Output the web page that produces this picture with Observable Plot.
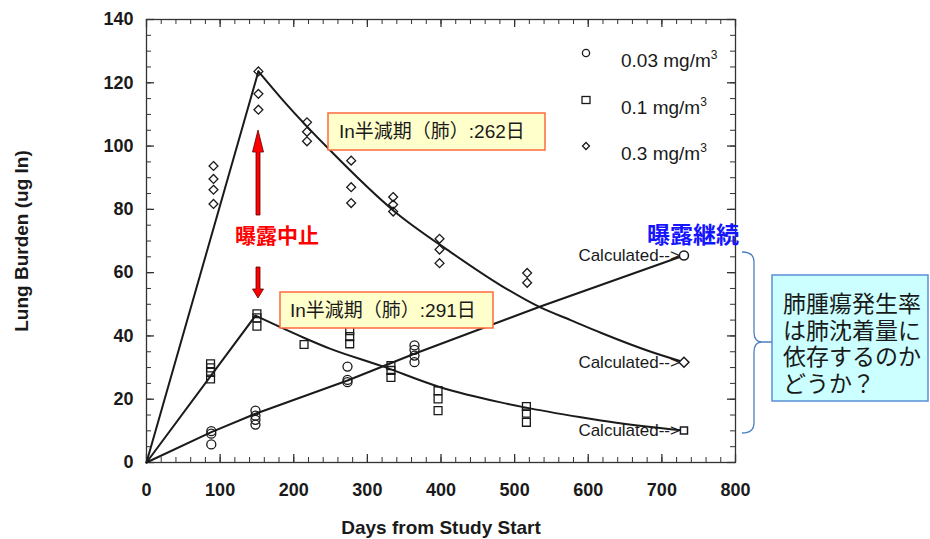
<!DOCTYPE html>
<html><head><meta charset="utf-8">
<script src="https://cdn.jsdelivr.net/npm/d3@7"></script>
<script src="https://cdn.jsdelivr.net/npm/@observablehq/plot@0.6"></script>
<style>
body{margin:0;background:#fff;}
#chart{position:relative;width:930px;height:539px;overflow:hidden;}
#chart svg{display:block;}
#chart [aria-label="x-axis label"] text,#chart [aria-label="y-axis label"] text{font-size:19px;font-weight:bold;}
</style></head><body><div id="chart"></div>
<script>
// ---- data ----
const xTicks = [0,100,200,300,400,500,600,700,800];
const yTicks = [0,20,40,60,80,100,120,140];
const seriesLabels = ["0.03 mg/m", "0.1 mg/m", "0.3 mg/m"];

// 0.03 mg/m3 (circles)
const lowDays   = [88,88,88,148,148,148,148,273,273,273,364,364,364,364];
const lowBurden = [9.9,9.1,5.7,16.4,14.8,13.5,12.0,30.3,26.1,25.4,37.0,35.6,33.8,31.7];
// 0.1 mg/m3 (squares)
const midDays   = [87,87,87,87,150,150,150,214,276,276,276,332,332,332,396,396,396,516,516,516];
const midBurden = [31.2,29.9,28.5,26.4,47.0,45.7,43.1,37.3,41.7,39.8,37.5,30.6,29.1,26.9,22.7,20.1,16.4,17.7,15.6,12.7];
// 0.3 mg/m3 (diamonds)
const highDays   = [91,91,91,91,152,152,152,218,218,218,278,278,278,335,335,335,398,398,398,517,517];
const highBurden = [93.7,89.6,86.2,81.7,123.6,116.5,111.5,107.5,104.5,101.5,95.4,87.0,82.0,83.9,81.5,79.3,70.7,67.3,63.0,59.9,56.8];

// calculated values at 730 days
const calcDay = 730;
const calcLow = 65.4, calcMid = 10.1, calcHigh = 31.7;
const calcText = "Calculated-->";

// fitted curves
const lowFitDays   = [0,88,148,273,363,535,730];
const lowFitBurden = [0,9.6,15.4,25.9,34.3,49.3,65.4];
const midRiseDays = [0,148], midRiseBurden = [0,46.4];
const midDecayDays   = [148,213,250,318,399,481,512,590,617,730];
const midDecayBurden = [46.4,39.5,35.9,30.6,23.8,19.0,17.5,14.3,13.3,10.1];
const highRiseDays = [0,152], highRiseBurden = [0,123.6];
const highDecayDays   = [152,186,250,336,413,481,535,576,617,685,730];
const highDecayBurden = [123.6,114.3,98.5,79.5,66.5,56,49,45,41,35,31.7];

// annotation texts
const halfLifeHigh = "In半減期（肺）:262日";
const halfLifeMid  = "In半減期（肺）:291日";
const stopText = "曝露中止";
const contText = "曝露継続";
const questionLines = ["肺腫瘍発生率","は肺沈着量に","依存するのか","どうか？"];

// ---- build tables ----
const zip = (xs, ys) => xs.map((d, i) => ({day: d, burden: ys[i]}));
const lowObs = zip(lowDays, lowBurden);
const midObs = zip(midDays, midBurden);
const highObs = zip(highDays, highBurden);
const calcRows = [{day: calcDay, burden: calcLow, sym: "circle"}, {day: calcDay, burden: calcMid, sym: "square2"}, {day: calcDay, burden: calcHigh, sym: "diamond2"}];
const xMinor = d3.range(0, 801, 20), yMinor = d3.range(0, 141, 5);

const W = 930, H = 539, mL = 146, mR = 195, mT = 19, mB = 77;
const pw = W - mL - mR, ph = H - mT - mB;
const ink = "#1a1a1a", frameInk = "#333";
const lineOpts = {x: "day", y: "burden", stroke: ink, strokeWidth: 2};

const plot = Plot.plot({
  width: W, height: H,
  marginLeft: mL, marginRight: mR, marginTop: mT, marginBottom: mB,
  style: {fontFamily: "'Liberation Sans', Arial, sans-serif", background: "white", color: ink},
  x: {domain: [0, 800]},
  y: {domain: [0, 140]},
  marks: [
    Plot.frame({stroke: frameInk, strokeWidth: 1.3}),
    Plot.tickX(xMinor, {x: d => d, stroke: frameInk, insetTop: ph - 5, strokeWidth: 1}),
    Plot.tickX(xTicks, {x: d => d, stroke: frameInk, insetTop: ph - 8, strokeWidth: 1.3}),
    Plot.tickX(xMinor, {x: d => d, stroke: frameInk, insetBottom: ph - 5, strokeWidth: 1}),
    Plot.tickX(xTicks, {x: d => d, stroke: frameInk, insetBottom: ph - 8, strokeWidth: 1.3}),
    Plot.tickY(yMinor, {y: d => d, stroke: frameInk, insetRight: pw - 5, strokeWidth: 1}),
    Plot.tickY(yTicks, {y: d => d, stroke: frameInk, insetRight: pw - 8, strokeWidth: 1.3}),
    Plot.tickY(yMinor, {y: d => d, stroke: frameInk, insetLeft: pw - 5, strokeWidth: 1}),
    Plot.tickY(yTicks, {y: d => d, stroke: frameInk, insetLeft: pw - 8, strokeWidth: 1.3}),
    Plot.axisX({ticks: xTicks, tickSize: 0, tickPadding: 21, fontSize: 18, fontWeight: "bold", fill: ink,
      label: "Days from Study Start", labelAnchor: "center", labelOffset: 71, labelArrow: "none"}),
    Plot.axisY({ticks: yTicks, tickSize: 0, tickPadding: 13, fontSize: 18, fontWeight: "bold", fill: ink,
      label: "Lung Burden (ug In)", labelAnchor: "center", labelOffset: 132, labelArrow: "none"}),
    Plot.line(zip(lowFitDays, lowFitBurden), lineOpts),
    Plot.line(zip(midRiseDays, midRiseBurden), lineOpts),
    Plot.line(zip(midDecayDays, midDecayBurden), {...lineOpts, curve: "monotone-x"}),
    Plot.line(zip(highRiseDays, highRiseBurden), lineOpts),
    Plot.line(zip(highDecayDays, highDecayBurden), {...lineOpts, curve: "monotone-x"}),
    Plot.dot(lowObs, {x: "day", y: "burden", symbol: "circle", r: 4.5, stroke: ink, fill: "none", strokeWidth: 1.3}),
    Plot.dot(midObs, {x: "day", y: "burden", symbol: "square2", r: 5, stroke: ink, fill: "none", strokeWidth: 1.3}),
    Plot.dot(highObs, {x: "day", y: "burden", symbol: "diamond2", r: 4, stroke: ink, fill: "none", strokeWidth: 1.3}),
    Plot.dot(calcRows, {x: "day", y: "burden", symbol: "sym", r: 4.5, stroke: ink, fill: "white", strokeWidth: 1.5}),
    Plot.text(calcRows, {x: "day", y: "burden", text: () => calcText, textAnchor: "end", dx: -4, fontSize: 17, fill: ink})
  ]
});
document.getElementById("chart").appendChild(plot);

// ---- annotations (legend, boxes, arrows, brace) ----
const svg = d3.select(plot);
const g = svg.append("g").attr("class", "annotations").attr("text-anchor", "start");
const latin = "'Liberation Sans', Arial, sans-serif";
const cjk = "'Liberation Sans', 'Noto Sans CJK JP', sans-serif";

// legend
const legY = [53, 100, 146];
g.append("circle").attr("cx", 586).attr("cy", legY[0]).attr("r", 3.6).attr("fill", "none").attr("stroke", ink).attr("stroke-width", 1.3);
g.append("rect").attr("x", 582).attr("y", legY[1] - 3.5).attr("width", 8).attr("height", 7).attr("fill", "none").attr("stroke", ink).attr("stroke-width", 1.3);
g.append("path").attr("d", `M586,${legY[2]-3.5}L589.5,${legY[2]}L586,${legY[2]+3.5}L582.5,${legY[2]}Z`).attr("fill", "none").attr("stroke", ink).attr("stroke-width", 1.3);
seriesLabels.forEach((s, i) => {
  const t = g.append("text").attr("x", 621).attr("y", legY[i] + 14).attr("text-anchor", "start").attr("font-family", latin).attr("font-size", 19).attr("fill", ink).text(s);
  t.append("tspan").attr("dy", -8).attr("font-size", 12).text("3");
});

// half-life boxes
function noteBox(x, y, w, h, txt, tx) {
  g.append("rect").attr("x", x).attr("y", y).attr("width", w).attr("height", h).attr("fill", "#ffffcc").attr("stroke", "#ff6a3d").attr("stroke-width", 1.5);
  g.append("text").attr("x", tx).attr("y", y + h / 2).attr("text-anchor", "start").attr("dominant-baseline", "central").attr("font-family", cjk).attr("font-size", 19).attr("fill", ink).text(txt);
}
noteBox(328, 113, 217, 37, halfLifeHigh, 339);
noteBox(280, 292, 213, 36, halfLifeMid, 290);

// red arrows
const red = "#ff0000";
g.append("polygon").attr("points", "256,215 260,215 260,152 263.5,152 258,130 252.5,152 256,152").attr("fill", red).attr("stroke", "#5a0000").attr("stroke-width", 0.8);
g.append("polygon").attr("points", "256,267 260,267 260,289 263.5,289 258,298 252.5,289 256,289").attr("fill", red).attr("stroke", "#5a0000").attr("stroke-width", 0.8);
g.append("text").attr("x", 235).attr("y", 234).attr("text-anchor", "start").attr("dominant-baseline", "central").attr("font-family", "'Noto Sans CJK JP', sans-serif").attr("font-weight", "bold").attr("font-size", 21).attr("fill", red).text(stopText);
g.append("text").attr("x", 647).attr("y", 233).attr("text-anchor", "start").attr("dominant-baseline", "central").attr("font-family", "'Noto Sans CJK JP', sans-serif").attr("font-weight", "bold").attr("font-size", 23).attr("fill", "#1414ff").text(contText);

// brace
const braceBlue = "#4f7fc0";
g.append("path").attr("d", "M742,252 Q754,252 754,262 L754,332 Q754,342 762,342 L772,342 M762,342 Q754,342 754,352 L754,423 Q754,433 742,433")
  .attr("fill", "none").attr("stroke", braceBlue).attr("stroke-width", 1.3);

// question box
g.append("rect").attr("x", 772).attr("y", 275).attr("width", 156).attr("height", 126).attr("fill", "#ccffff").attr("stroke", "#5b8fd6").attr("stroke-width", 1.5);
questionLines.forEach((s, i) => {
  g.append("text").attr("x", 783).attr("y", 302 + i * 26.7).attr("text-anchor", "start").attr("dominant-baseline", "central").attr("font-family", "'Noto Sans CJK JP', sans-serif").attr("font-size", 23).attr("fill", ink).text(s);
});
</script></body></html>
